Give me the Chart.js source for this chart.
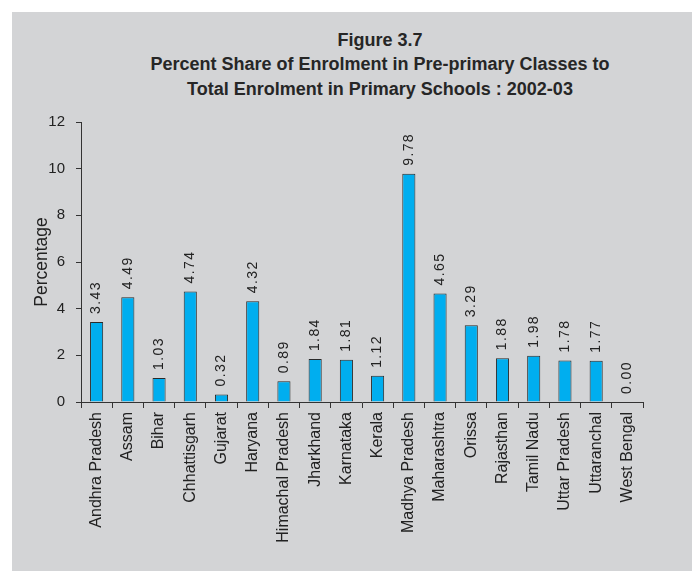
<!DOCTYPE html>
<html>
<head>
<meta charset="utf-8">
<script src="https://cdn.jsdelivr.net/npm/chart.js@4/dist/chart.umd.min.js"></script>
<style>
  html, body { margin: 0; padding: 0; background: #ffffff; }
  #frame { position: absolute; left: 12px; top: 12px; width: 680px; height: 559px; background: #d3d4d6; }
  #title { position: absolute; left: 0; top: 15.5px; width: 736px; text-align: center;
           font-family: "Liberation Sans", Arial, sans-serif; font-weight: bold; font-size: 18px;
           line-height: 24.5px; color: #262626; }
  canvas { position: absolute; left: 0; top: 0; }
</style>
</head>
<body>
<div id="frame">
  <div id="title">Figure 3.7<br>Percent Share of Enrolment in Pre-primary Classes to<br>Total Enrolment in Primary Schools : 2002-03</div>
  <canvas id="c" width="680" height="559"></canvas>
</div>
<script>
const states = ["Andhra Pradesh", "Assam", "Bihar", "Chhattisgarh", "Gujarat", "Haryana",
  "Himachal Pradesh", "Jharkhand", "Karnataka", "Kerala", "Madhya Pradesh", "Maharashtra",
  "Orissa", "Rajasthan", "Tamil Nadu", "Uttar Pradesh", "Uttaranchal", "West Bengal"];
const shares = [3.43, 4.49, 1.03, 4.74, 0.32, 4.32, 0.89, 1.84, 1.81, 1.12, 9.78, 4.65,
  3.29, 1.88, 1.98, 1.78, 1.77, 0.00];
const yTicks = [0, 2, 4, 6, 8, 10, 12];
const yTitle = "Percentage";

const FONT = '"Liberation Sans", Arial, sans-serif';

const valueLabels = {
  id: 'valueLabels',
  afterDatasetsDraw(chart) {
    const ctx = chart.ctx;
    const meta = chart.getDatasetMeta(0);
    ctx.save();
    ctx.fillStyle = '#222';
    ctx.font = '14px ' + FONT;
    if ('letterSpacing' in ctx) ctx.letterSpacing = '1.4px';
    ctx.textAlign = 'left';
    ctx.textBaseline = 'middle';
    meta.data.forEach((bar, i) => {
      const v = chart.data.datasets[0].data[i];
      ctx.save();
      ctx.translate(bar.x, bar.y - 8);
      ctx.rotate(-Math.PI / 2);
      ctx.fillText(v.toFixed(2), 0, 0);
      ctx.restore();
    });
    ctx.restore();
  }
};

new Chart(document.getElementById('c'), {
  type: 'bar',
  data: {
    labels: states,
    datasets: [{
      data: shares,
      backgroundColor: '#00aeef',
      borderColor: '#2a2a2a',
      borderWidth: 1,
      categoryPercentage: 1,
      barPercentage: 0.42
    }]
  },
  options: {
    responsive: false,
    animation: false,
    devicePixelRatio: 1,
    layout: { padding: { left: 0, top: 110, right: 49, bottom: 0 } },
    plugins: { legend: { display: false }, tooltip: { enabled: false }, title: { display: false } },
    scales: {
      x: {
        afterFit(scale) { scale.height = 169; },
        grid: { display: true, drawOnChartArea: false, drawTicks: true, tickLength: 6, color: '#333', offset: true },
        border: { display: true, color: '#333', width: 1 },
        ticks: { autoSkip: false, minRotation: 90, maxRotation: 90, padding: 4, color: '#222',
                 font: { family: FONT, size: 16 } }
      },
      y: {
        min: 0, max: 12,
        afterFit(scale) { scale.width = 69; },
        afterBuildTicks(scale) { scale.ticks = yTicks.map(v => ({ value: v })); },
        grid: { display: true, drawOnChartArea: false, drawTicks: true, tickLength: 5, color: '#333' },
        border: { display: true, color: '#333', width: 1 },
        ticks: { padding: 11, color: '#222', font: { family: FONT, size: 15 } },
        title: { display: true, text: yTitle, color: '#222', padding: { top: 20, bottom: 0 },
                 font: { family: FONT, size: 17.5 } }
      }
    }
  },
  plugins: [valueLabels]
});
</script>
</body>
</html>
